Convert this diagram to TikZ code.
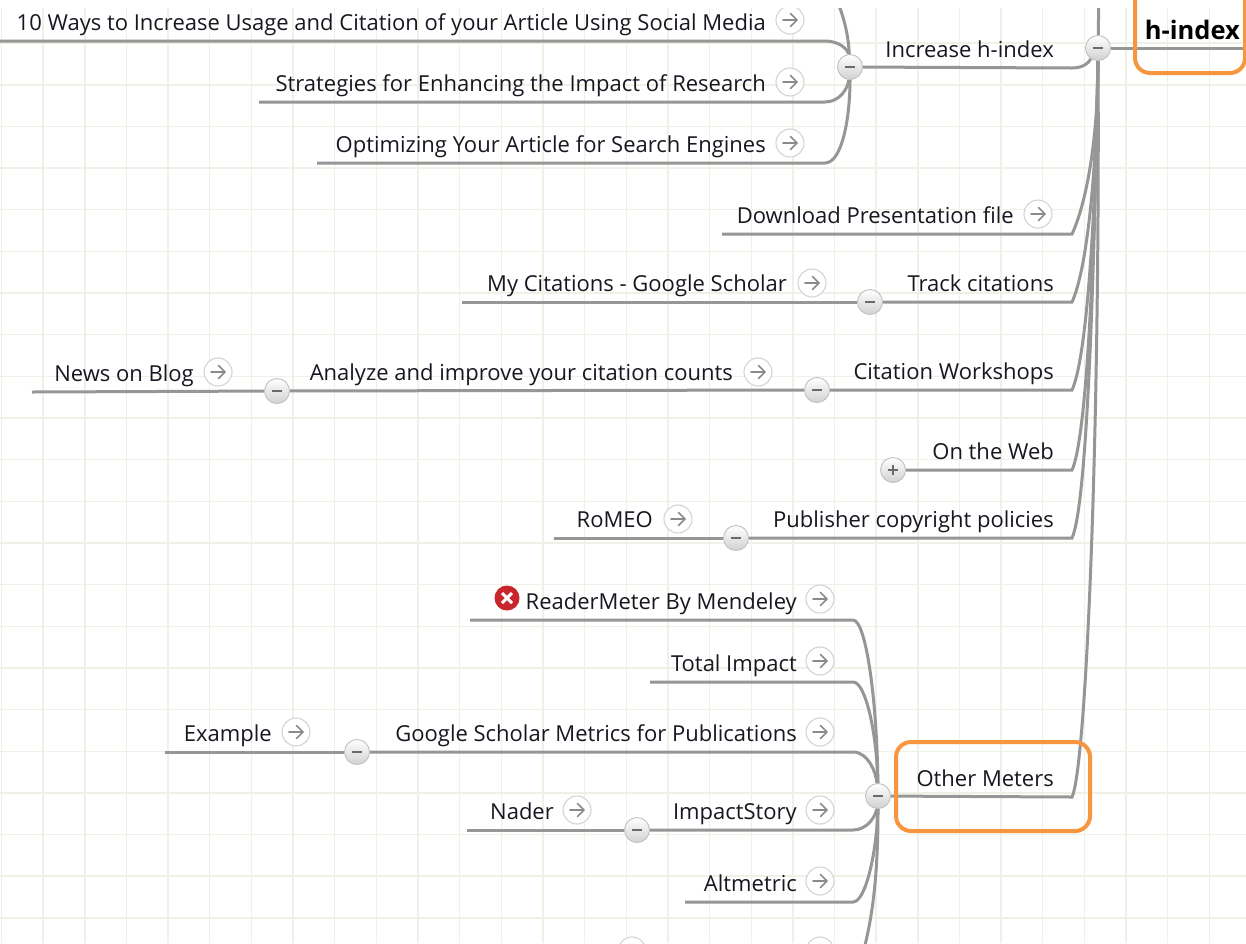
\documentclass[tikz,border=0pt]{standalone}
\usepackage{fontspec}
\setmainfont{Open Sans}
\usetikzlibrary{calc}
\definecolor{gridC}{HTML}{EDF1E6}
\definecolor{lineC}{HTML}{969696}
\definecolor{orangeC}{HTML}{F7963F}
\definecolor{txtC}{HTML}{1A1620}
\definecolor{arrowC}{HTML}{8A8A8A}
\definecolor{circC}{HTML}{C0C0C0}
\definecolor{linkC}{HTML}{D4D4D4}
\definecolor{minusC}{HTML}{6A6A6A}
\definecolor{redC}{HTML}{C9252C}
\pgfdeclarelayer{gridlayer}
\pgfdeclarelayer{linelayer}
\pgfsetlayers{gridlayer,linelayer,main}
\begin{document}
\begin{tikzpicture}[x=1pt,y=-1pt,
  conn/.style={draw=lineC,line width=3pt},
  lbl/.style={anchor=base east,inner sep=0pt,text=txtC,font=\fontsize{22}{26}\selectfont},
  rootlbl/.style={anchor=base east,inner sep=0pt,text=black,font=\fontsize{25.5}{30}\selectfont\bfseries},
  toggle/.style={circle,minimum size=25pt,inner sep=0pt,draw=circC,line width=0.9pt,
    top color=white,bottom color=black!18,
    path picture={\draw[minusC,line width=2.6pt] ($(path picture bounding box.center)+(-5pt,0pt)$) -- ++(10pt,0pt);}},
  toggleplus/.style={toggle,
    path picture={\draw[minusC,line width=2.4pt] ($(path picture bounding box.center)+(-5pt,0pt)$) -- ++(10pt,0pt)
      ($(path picture bounding box.center)+(0pt,-5pt)$) -- ++(0pt,10pt);}},
  golink/.style={circle,minimum size=28pt,inner sep=0pt,draw=linkC,line width=1.1pt,fill=white,
    path picture={\draw[arrowC,line width=1.7pt,line cap=round,line join=round]
      ($(path picture bounding box.center)+(-7pt,0pt)$) -- ++(14pt,0pt) ++(-6.5pt,-6.5pt) -- ++(6.5pt,6.5pt) -- ++(-6.5pt,6.5pt);}},
  errico/.style={circle,minimum size=25pt,inner sep=0pt,fill=redC,
    path picture={\draw[white,line width=3pt]
      ($(path picture bounding box.center)+(-5pt,-5pt)$) -- ++(10pt,10pt)
      ($(path picture bounding box.center)+(-5pt,5pt)$) -- ++(10pt,-10pt);}},
  hibox/.style={draw=orangeC,line width=4pt,rounded corners=15pt}
]
\useasboundingbox (0,0) rectangle (1246,943);

% background and grid
\begin{pgfonlayer}{gridlayer}
\fill[white] (0,0) rectangle (1246,943);
\foreach \i in {0,...,30} \draw[gridC,line width=1.4pt] (1.5+41.65*\i,8) -- (1.5+41.65*\i,943);
\foreach \j in {1,...,22} \draw[gridC,line width=1.4pt] (0,1.5+41.65*\j) -- (1246,1.5+41.65*\j);
\end{pgfonlayer}

\begin{scope}
\clip (0,8) rectangle (1246,943);
% ---------- toggles ----------
\node[toggle] (R) at (1098,48) {};
\node[toggle] (I) at (850,67) {};
\node[toggle] (T) at (870,302) {};
\node[toggle] (CW) at (817,390) {};
\node[toggle] (A) at (277,391) {};
\node[toggleplus] (W) at (893,470) {};
\node[toggle] (P) at (736,538) {};
\node[toggle] (O) at (878,796) {};
\node[toggle] (G) at (357,752) {};
\node[toggle] (IS) at (637,830) {};

% ---------- labels ----------
\node[rootlbl] (root) at (1240,39) {h-index};
\node[lbl] (ihi) at (1054,57) {Increase h-index};
\node[lbl] (w10) at (766,30) {10 Ways to Increase Usage and Citation of your Article Using Social Media};
\node[lbl] (str) at (766,91) {Strategies for Enhancing the Impact of Research};
\node[lbl] (opt) at (766,152) {Optimizing Your Article for Search Engines};
\node[lbl] (dl) at (1014,223) {Download Presentation file};
\node[lbl] (tc) at (1054,291) {Track citations};
\node[lbl] (mc) at (787,291) {My Citations - Google Scholar};
\node[lbl] (cw) at (1054,379) {Citation Workshops};
\node[lbl] (an) at (733,380) {Analyze and improve your citation counts};
\node[lbl] (nb) at (194,381) {News on Blog};
\node[lbl] (ow) at (1054,459) {On the Web};
\node[lbl] (pc) at (1054,527) {Publisher copyright policies};
\node[lbl] (ro) at (653,527) {RoMEO};
\node[lbl] (om) at (1054,786) {Other Meters};
\node[lbl] (rm) at (797,609) {ReaderMeter By Mendeley};
\node[lbl] (ti) at (797,671) {Total Impact};
\node[lbl] (gs) at (797,741) {Google Scholar Metrics for Publications};
\node[lbl] (ex) at (272,741) {Example};
\node[lbl] (is) at (797,819) {ImpactStory};
\node[lbl] (na) at (554,819) {Nader};
\node[lbl] (al) at (797,891) {Altmetric};

% ---------- link arrows ----------
\node[golink] (w10a) at (790,20) {};
\node[golink] (stra) at (790,82) {};
\node[golink] (opta) at (790,143) {};
\node[golink] (dla) at (1038,214) {};
\node[golink] (mca) at (812,283) {};
\node[golink] (ana) at (758,372) {};
\node[golink] (nba) at (218,372) {};
\node[golink] (roa) at (678,519) {};
\node[golink] (rma) at (820,599) {};
\node[golink] (tia) at (820,661) {};
\node[golink] (gsa) at (820,732) {};
\node[golink] (exa) at (296,732) {};
\node[golink] (isa) at (820,810) {};
\node[golink] (naa) at (577,810) {};
\node[golink] (ala) at (820,881) {};
\node[golink] (c1a) at (632,951) {};
\node[golink] (c2a) at (820,951) {};
\node[errico] (rmx) at (507,598) {};

% ---------- connector end points ----------
\coordinate (ihiE) at (1072,68);
\coordinate (w10W) at (-5,41);   \coordinate (w10E) at (825,41);
\coordinate (strW) at (259,102); \coordinate (strE) at (825,102);
\coordinate (optW) at (317,163); \coordinate (optE) at (825,163);
\coordinate (upI) at (832,-10);
\coordinate (upR) at (1099,-10);
\coordinate (rootE) at (1260,48);
\coordinate (dlW) at (722,234);  \coordinate (dlE) at (1072,234);
\coordinate (tcE) at (1072,302); \coordinate (mcW) at (462,302);
\coordinate (cwE) at (1072,390); \coordinate (nbW) at (32,392);
\coordinate (owE) at (1072,470);
\coordinate (pcE) at (1072,538); \coordinate (roW) at (554,538);
\coordinate (omE) at (1072,797);
\coordinate (rmW) at (470,620);  \coordinate (rmE) at (853,620);
\coordinate (tiW) at (650,682);  \coordinate (tiE) at (853,682);
\coordinate (gsE) at (853,752);  \coordinate (exW) at (165,752);
\coordinate (isE) at (853,830);  \coordinate (naW) at (467,830);
\coordinate (alW) at (685,902);  \coordinate (alE) at (853,902);
\coordinate (dnO) at (856,975);
\end{scope}

% ---------- connectors ----------
\begin{pgfonlayer}{linelayer}
\clip (0,8) rectangle (1246,943);
\draw[conn] (R) -- (rootE);
\draw[conn] (R) -- (upR);
\draw[conn] (I) -- (ihiE) .. controls (1086,68) and (1090,60) .. (R);
\draw[conn] (w10W) -- (w10E) .. controls (840,41) and (848,50) .. (I);
\draw[conn] (strW) -- (strE) .. controls (840,102) and (848,88) .. (I);
\draw[conn] (optW) -- (optE) .. controls (842,163) and (850,118) .. (I);
\draw[conn] (I) .. controls (848,30) and (842,10) .. (upI);
\draw[conn] (R) .. controls (1098,141) and (1086,204) .. (dlE) -- (dlW);
\draw[conn] (R) .. controls (1097,178) and (1086,272) .. (tcE) -- (T);
\draw[conn] (T) -- (mcW);
\draw[conn] (R) .. controls (1096,226) and (1086,360) .. (cwE) -- (CW);
\draw[conn] (CW) -- (A) -- (nbW);
\draw[conn] (R) .. controls (1095,270) and (1086,440) .. (owE) -- (W);
\draw[conn] (R) .. controls (1094,305) and (1086,508) .. (pcE) -- (P);
\draw[conn] (P) -- (roW);
\draw[conn] (R) .. controls (1100,440) and (1086,767) .. (omE) -- (O);
\draw[conn] (rmW) -- (rmE) .. controls (866,620) and (877,700) .. (O);
\draw[conn] (tiW) -- (tiE) .. controls (866,682) and (877,735) .. (O);
\draw[conn] (G) -- (gsE) .. controls (868,752) and (876,772) .. (O);
\draw[conn] (G) -- (exW);
\draw[conn] (IS) -- (isE) .. controls (868,830) and (876,815) .. (O);
\draw[conn] (IS) -- (naW);
\draw[conn] (alW) -- (alE) .. controls (866,902) and (877,850) .. (O);
\draw[conn] (O) .. controls (878,880) and (872,930) .. (dnO);
\end{pgfonlayer}

% ---------- highlight boxes ----------
\node[hibox,minimum width=194pt,minimum height=89pt,inner sep=0pt] (ombox) at (993,786.5) {};
\draw[hibox] (1135,-30) rectangle (1245,73);
\end{tikzpicture}
\end{document}
